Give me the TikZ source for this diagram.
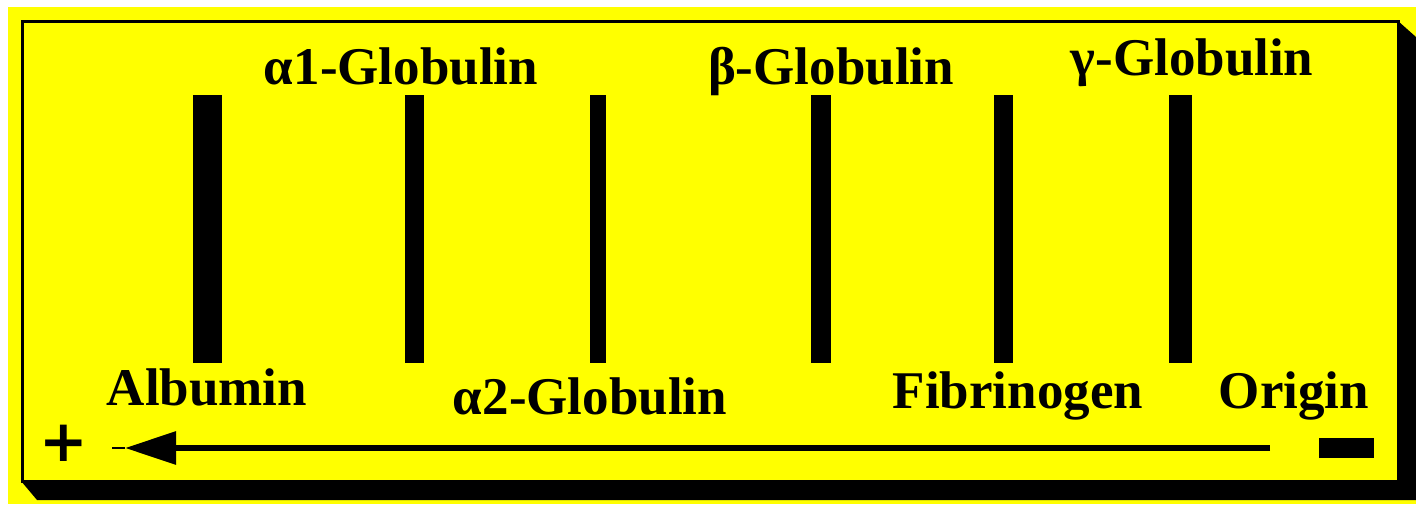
\documentclass[tikz,border=0pt]{standalone}
\usepackage{fontspec}
\setmainfont{Liberation Serif}
\newfontfamily\signfont{DejaVu Sans}
\usetikzlibrary{arrows.meta}
\definecolor{bgyellow}{RGB}{255,255,0}
\tikzset{
  band/.style={fill=black, draw=none},
  lbl/.style={anchor=base, inner sep=0pt, font=\fontsize{53}{60}\selectfont\bfseries},
  frameline/.style={draw=black, line width=3pt},
}
\begin{document}
\begin{tikzpicture}[x=1pt, y=-1pt]
\useasboundingbox (0,0) rectangle (1416,504);
\fill[white] (0,0) rectangle (1416,504);
\fill[bgyellow] (8,7) rectangle (1416,504);
% shadow
\fill[black] (21,481) -- (37,500) -- (1416,500) -- (1416,37) -- (1398,21) -- (1398,481) -- cycle;
% frame
\draw[frameline] (22.5,21.5) rectangle (1398,481);
% bands
\fill[band] (193,95) rectangle (222,363);
\fill[band] (405,95) rectangle (424,363);
\fill[band] (590,95) rectangle (606,363);
\fill[band] (811,95) rectangle (831,363);
\fill[band] (994,95) rectangle (1013,363);
\fill[band] (1169,95) rectangle (1192,363);
% labels
\node[lbl] (a1) at (401,84) {α1-Globulin};
\node[lbl] (beta) at (831,84) {β-Globulin};
\node[lbl] (gamma) at (1192,75) {γ-Globulin};
\node[lbl] (alb) at (207,405) {Albumin};
\node[lbl] (a2) at (590,414) {α2-Globulin};
\node[lbl] (fib) at (1018,408) {Fibrinogen};
\node[lbl] (orig) at (1294,408) {Origin};
% signs
\node[inner sep=0pt, font=\fontsize{58}{60}\signfont\bfseries] (plus) at (64,443) {+};
\node[fill=black, inner sep=0pt, minimum width=55pt, minimum height=20pt] (minus) at (1346.5,448) {};
% arrow
\coordinate (astart) at (1270,448);
\coordinate (atip) at (125,448);
\coordinate (astem) at (112,448);
\draw[line width=6pt, -{Triangle[length=51pt,width=32pt]}] (astart) -- (atip);
\draw[line width=2.5pt] (atip) -- (astem);
\end{tikzpicture}
\end{document}
